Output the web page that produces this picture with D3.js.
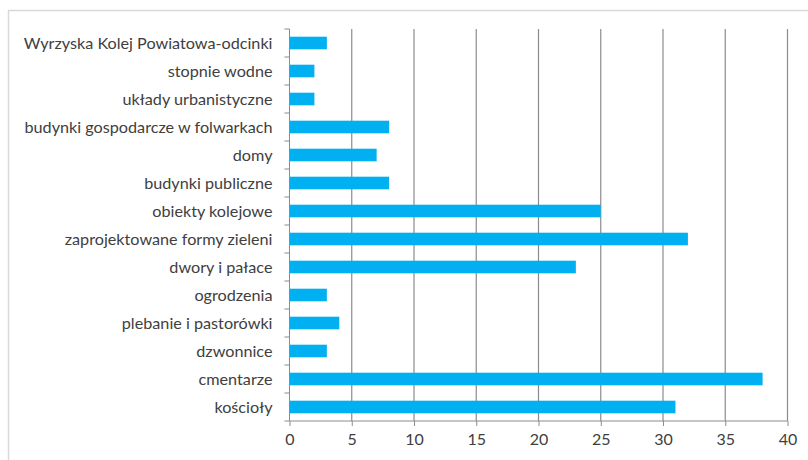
<!DOCTYPE html>
<html>
<head>
<meta charset="utf-8">
<script src="https://cdn.jsdelivr.net/npm/d3@7"></script>
<style>
  body { margin: 0; background: #fff; }
  svg text { font-family: Lato, "Open Sans", sans-serif; fill: #404040; }
</style>
</head>
<body>
<svg id="chart" width="808" height="460"></svg>
<script>
var categories = ['Wyrzyska Kolej Powiatowa-odcinki', 'stopnie wodne', 'układy urbanistyczne',
  'budynki gospodarcze w folwarkach', 'domy', 'budynki publiczne', 'obiekty kolejowe',
  'zaprojektowane formy zieleni', 'dwory i pałace', 'ogrodzenia', 'plebanie i pastorówki',
  'dzwonnice', 'cmentarze', 'kościoły'];
var values = [3, 2, 2, 8, 7, 8, 25, 32, 23, 3, 4, 3, 38, 31];
var xTicks = [0, 5, 10, 15, 20, 25, 30, 35, 40];

var svg = d3.select('#chart');
var plotLeft = 289.5, plotRight = 787.5, plotTop = 29, plotBottom = 421;

// outer chart frame, only top and left edges visible
svg.append('rect')
  .attr('x', 8.5).attr('y', 10.5)
  .attr('width', 900).attr('height', 600)
  .attr('fill', 'none').attr('stroke', '#d9d9d9').attr('stroke-width', 1.5);

var x = d3.scaleLinear().domain([0, 40]).range([plotLeft, plotRight]);
var y = d3.scaleBand().domain(categories).range([plotTop, plotBottom]).paddingInner(0.55).paddingOuter(0.275);

// vertical gridlines
svg.append('g').selectAll('line')
  .data(xTicks.slice(1))
  .enter().append('line')
  .attr('x1', function(d){ return x(d); }).attr('x2', function(d){ return x(d); })
  .attr('y1', plotTop).attr('y2', plotBottom)
  .attr('stroke', '#8c8c8c').attr('stroke-width', 1.2);

// bars
svg.append('g').selectAll('rect')
  .data(values)
  .enter().append('rect')
  .attr('x', x(0))
  .attr('y', function(d, i){ return y(categories[i]); })
  .attr('width', function(d){ return x(d) - x(0); })
  .attr('height', y.bandwidth())
  .attr('fill', '#00b0f0');

// x axis
var xAxis = svg.append('g')
  .attr('transform', 'translate(0,' + plotBottom + ')')
  .call(d3.axisBottom(x).tickValues(xTicks).tickSize(5).tickPadding(8));
xAxis.select('.domain').attr('stroke', '#8c8c8c').attr('d', 'M' + plotLeft + ',0H' + plotRight);
xAxis.selectAll('.tick line').attr('stroke', '#8c8c8c');
xAxis.selectAll('text').style('font-size', '16px').style('fill', '#404040');

// y axis with boundary ticks between categories
var yAxis = svg.append('g').attr('transform', 'translate(' + plotLeft + ',0)');
yAxis.append('line')
  .attr('y1', plotTop).attr('y2', plotBottom)
  .attr('stroke', '#8c8c8c');
var step = (plotBottom - plotTop) / categories.length;
yAxis.selectAll('.bt')
  .data(d3.range(categories.length + 1))
  .enter().append('line')
  .attr('x1', -5).attr('x2', 0)
  .attr('y1', function(i){ return plotTop + i * step; })
  .attr('y2', function(i){ return plotTop + i * step; })
  .attr('stroke', '#8c8c8c');
yAxis.selectAll('text')
  .data(categories)
  .enter().append('text')
  .attr('x', -17)
  .attr('y', function(d){ return y(d) + y.bandwidth() / 2; })
  .attr('dy', '0.35em')
  .attr('text-anchor', 'end')
  .style('font-size', '16.2px')
  .text(function(d){ return d; });
</script>
</body>
</html>
